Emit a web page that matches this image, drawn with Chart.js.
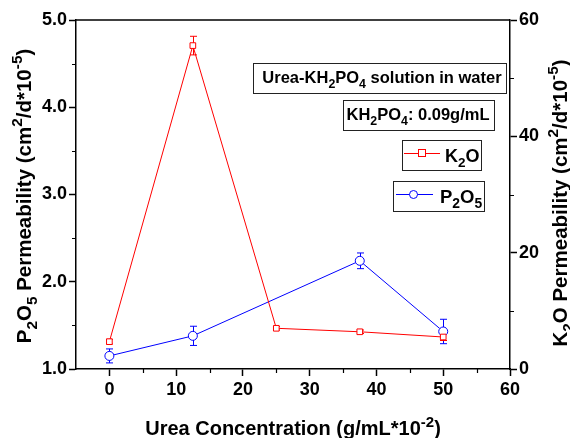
<!DOCTYPE html>
<html>
<head>
<meta charset="utf-8">
<script src="https://cdn.jsdelivr.net/npm/chart.js@4"></script>
<style>
  html, body { margin:0; padding:0; background:#fff; }
  #wrap { width:570px; height:438px; }
</style>
</head>
<body>
<div id="wrap"><canvas id="chart" width="570" height="438"></canvas></div>
<script>
// data
const ureaConc = [0, 12.5, 25, 37.5, 50];
const k2oPerm = [4.7, 55.6, 7.0, 6.4, 5.5];
const k2oErr = [0.4, 1.6, 0.3, 0.3, 0.6];
const p2o5Conc = [0, 12.5, 37.5, 50];
const p2o5Perm = [1.15, 1.38, 2.24, 1.43];
const p2o5Err = [0.08, 0.11, 0.09, 0.14];
const leftTicks = [1, 2, 3, 4, 5];
const rightTicks = [0, 20, 40, 60];
const xTicks = [0, 10, 20, 30, 40, 50, 60];

const FONT = '"Liberation Sans", Arial, sans-serif';
const RED = '#ff0000', BLUE = '#0000ff';
const SUB = 0.75;

// rich text: parts = [[text, 'n'|'sub'|'sup'], ...]
function richWidth(ctx, parts, size) {
  let w = 0;
  parts.forEach(([t, m]) => {
    ctx.font = 'bold ' + (m === 'n' ? size : size * SUB) + 'px ' + FONT;
    w += ctx.measureText(t).width;
  });
  return w;
}
function drawRich(ctx, parts, x, y, size, align) {
  let w = richWidth(ctx, parts, size);
  let cx = align === 'center' ? x - w / 2 : x;
  ctx.textBaseline = 'alphabetic';
  ctx.textAlign = 'left';
  parts.forEach(([t, m]) => {
    let s = m === 'n' ? size : size * SUB;
    ctx.font = 'bold ' + s + 'px ' + FONT;
    let dy = m === 'sub' ? size * 0.28 : m === 'sup' ? -size * 0.42 : 0;
    ctx.fillText(t, cx, y + dy);
    cx += ctx.measureText(t).width;
  });
}

const decorations = {
  id: 'decorations',
  beforeDatasetsDraw(chart) {
    const ctx = chart.ctx;
    const x = chart.scales.x, yl = chart.scales.yP, yr = chart.scales.yK;
    ctx.save();
    ctx.lineWidth = 1;
    // error bars
    const bars = (xs, ys, es, sc, col) => {
      ctx.strokeStyle = col;
      xs.forEach((v, i) => {
        const px = Math.round(x.getPixelForValue(v)) + 0.5;
        const top = sc.getPixelForValue(ys[i] + es[i]);
        const bot = sc.getPixelForValue(ys[i] - es[i]);
        ctx.beginPath();
        ctx.moveTo(px, top); ctx.lineTo(px, bot);
        ctx.moveTo(px - 3.5, top); ctx.lineTo(px + 3.5, top);
        ctx.moveTo(px - 3.5, bot); ctx.lineTo(px + 3.5, bot);
        ctx.stroke();
      });
    };
    bars(p2o5Conc, p2o5Perm, p2o5Err, yl, BLUE);
    bars(ureaConc, k2oPerm, k2oErr, yr, RED);
    ctx.restore();
  },
  afterDraw(chart) {
    const ctx = chart.ctx;
    const a = chart.chartArea;
    const x = chart.scales.x, yl = chart.scales.yP, yr = chart.scales.yK;
    ctx.save();
    // top frame line
    ctx.strokeStyle = '#000';
    ctx.lineWidth = 1.5;
    ctx.beginPath();
    ctx.moveTo(a.left, a.top); ctx.lineTo(a.right, a.top);
    ctx.stroke();
    // minor ticks
    ctx.lineWidth = 1.2;
    ctx.beginPath();
    [1.5, 2.5, 3.5, 4.5].forEach(v => {
      const p = Math.round(yl.getPixelForValue(v)) + 0.5;
      ctx.moveTo(a.left, p); ctx.lineTo(a.left - 4, p);
    });
    [10, 30, 50].forEach(v => {
      const p = Math.round(yr.getPixelForValue(v)) + 0.5;
      ctx.moveTo(a.right, p); ctx.lineTo(a.right + 4, p);
    });
    [5, 15, 25, 35, 45, 55].forEach(v => {
      const p = Math.round(x.getPixelForValue(v)) + 0.5;
      ctx.moveTo(p, a.bottom); ctx.lineTo(p, a.bottom + 4);
    });
    ctx.stroke();

    // axis titles
    ctx.fillStyle = '#000';
    drawRich(ctx, [['Urea Concentration (g/mL*10', 'n'], ['-2', 'sup'], [')', 'n']],
      (a.left + a.right) / 2, 435, 20, 'center');
    ctx.save();
    ctx.translate(31, 196);
    ctx.rotate(-Math.PI / 2);
    drawRich(ctx, [['P', 'n'], ['2', 'sub'], ['O', 'n'], ['5', 'sub'], [' Permeability (cm', 'n'], ['2', 'sup'],
      ['/d*10', 'n'], ['-5', 'sup'], [')', 'n']], 0, 0, 20.5, 'center');
    ctx.restore();
    ctx.save();
    ctx.translate(567, 203);
    ctx.rotate(-Math.PI / 2);
    drawRich(ctx, [['K', 'n'], ['2', 'sub'], ['O Permeability (cm', 'n'], ['2', 'sup'],
      ['/d*10', 'n'], ['-5', 'sup'], [')', 'n']], 0, 0, 20.5, 'center');
    ctx.restore();

    // annotation boxes
    ctx.strokeStyle = '#222';
    ctx.lineWidth = 1;
    ctx.fillStyle = '#fff';
    const box = (l, t, r, b) => {
      ctx.fillRect(l, t, r - l, b - t);
      ctx.strokeRect(l + 0.5, t + 0.5, r - l, b - t);
    };
    box(253, 63, 506, 93);
    box(343, 100, 494, 130);
    box(402, 140, 481, 170);
    box(393, 181, 484, 211);
    ctx.fillStyle = '#000';
    drawRich(ctx, [['Urea-KH', 'n'], ['2', 'sub'], ['PO', 'n'], ['4', 'sub'], [' solution in water', 'n']],
      382, 83, 16.5, 'center');
    drawRich(ctx, [['KH', 'n'], ['2', 'sub'], ['PO', 'n'], ['4', 'sub'], [': 0.09g/mL', 'n']],
      418, 120, 16.5, 'center');

    // legend entries
    ctx.lineWidth = 1;
    ctx.strokeStyle = RED;
    ctx.beginPath(); ctx.moveTo(404, 153.5); ctx.lineTo(440, 153.5); ctx.stroke();
    ctx.fillStyle = '#fff';
    ctx.fillRect(418, 149, 8, 8);
    ctx.strokeRect(418.5, 149.5, 7, 7);
    ctx.fillStyle = '#000';
    drawRich(ctx, [['K', 'n'], ['2', 'sub'], ['O', 'n']], 445, 162, 18, 'left');

    ctx.strokeStyle = BLUE;
    ctx.beginPath(); ctx.moveTo(396, 194.5); ctx.lineTo(433, 194.5); ctx.stroke();
    ctx.fillStyle = '#fff';
    ctx.beginPath(); ctx.arc(413.5, 194.5, 4, 0, Math.PI * 2); ctx.fill(); ctx.stroke();
    ctx.fillStyle = '#000';
    drawRich(ctx, [['P', 'n'], ['2', 'sub'], ['O', 'n'], ['5', 'sub']], 440, 203, 18.5, 'left');
    ctx.restore();
  }
};

const tickFont = { family: FONT, size: 18, weight: 'bold' };

new Chart(document.getElementById('chart'), {
  type: 'line',
  data: {
    datasets: [
      {
        label: 'K2O',
        data: ureaConc.map((v, i) => ({ x: v, y: k2oPerm[i] })),
        yAxisID: 'yK',
        borderColor: RED,
        borderWidth: 1,
        pointStyle: 'rect',
        pointRadius: 4,
        pointBorderWidth: 1,
        pointBackgroundColor: '#fff',
        pointBorderColor: RED,
        tension: 0
      },
      {
        label: 'P2O5',
        data: p2o5Conc.map((v, i) => ({ x: v, y: p2o5Perm[i] })),
        yAxisID: 'yP',
        borderColor: BLUE,
        borderWidth: 1,
        pointStyle: 'circle',
        pointRadius: 4.5,
        pointBorderWidth: 1,
        pointBackgroundColor: '#fff',
        pointBorderColor: BLUE,
        tension: 0
      }
    ]
  },
  options: {
    responsive: false,
    animation: false,
    layout: { padding: { top: 20, left: 0, right: 0, bottom: 0 } },
    plugins: { legend: { display: false }, tooltip: { enabled: false } },
    scales: {
      x: {
        type: 'linear',
        min: -5, max: 60,
        afterFit: s => { s.height = 69; },
        ticks: {
          stepSize: 10,
          color: '#000',
          font: tickFont,
          padding: 3,
          maxRotation: 0,
          callback: v => xTicks.includes(v) ? String(v) : ''
        },
        afterBuildTicks: s => { s.ticks = xTicks.map(v => ({ value: v })); },
        grid: { drawOnChartArea: false, tickLength: 7, tickColor: '#000', tickWidth: 1.5 },
        border: { color: '#000', width: 1.5 }
      },
      yP: {
        position: 'left',
        min: 1, max: 5,
        afterFit: s => { s.width = 76; },
        afterBuildTicks: s => { s.ticks = leftTicks.map(v => ({ value: v })); },
        ticks: { color: '#000', font: tickFont, padding: 2, callback: v => v.toFixed(1) },
        grid: { drawOnChartArea: false, tickLength: 7, tickColor: '#000', tickWidth: 1.5 },
        border: { color: '#000', width: 1.5 }
      },
      yK: {
        position: 'right',
        min: 0, max: 60,
        afterFit: s => { s.width = 60; },
        afterBuildTicks: s => { s.ticks = rightTicks.map(v => ({ value: v })); },
        ticks: { color: '#000', font: tickFont, padding: 2, callback: v => String(v) },
        grid: { drawOnChartArea: false, tickLength: 7, tickColor: '#000', tickWidth: 1.5 },
        border: { color: '#000', width: 1.5 }
      }
    }
  },
  plugins: [decorations]
});
</script>
</body>
</html>
